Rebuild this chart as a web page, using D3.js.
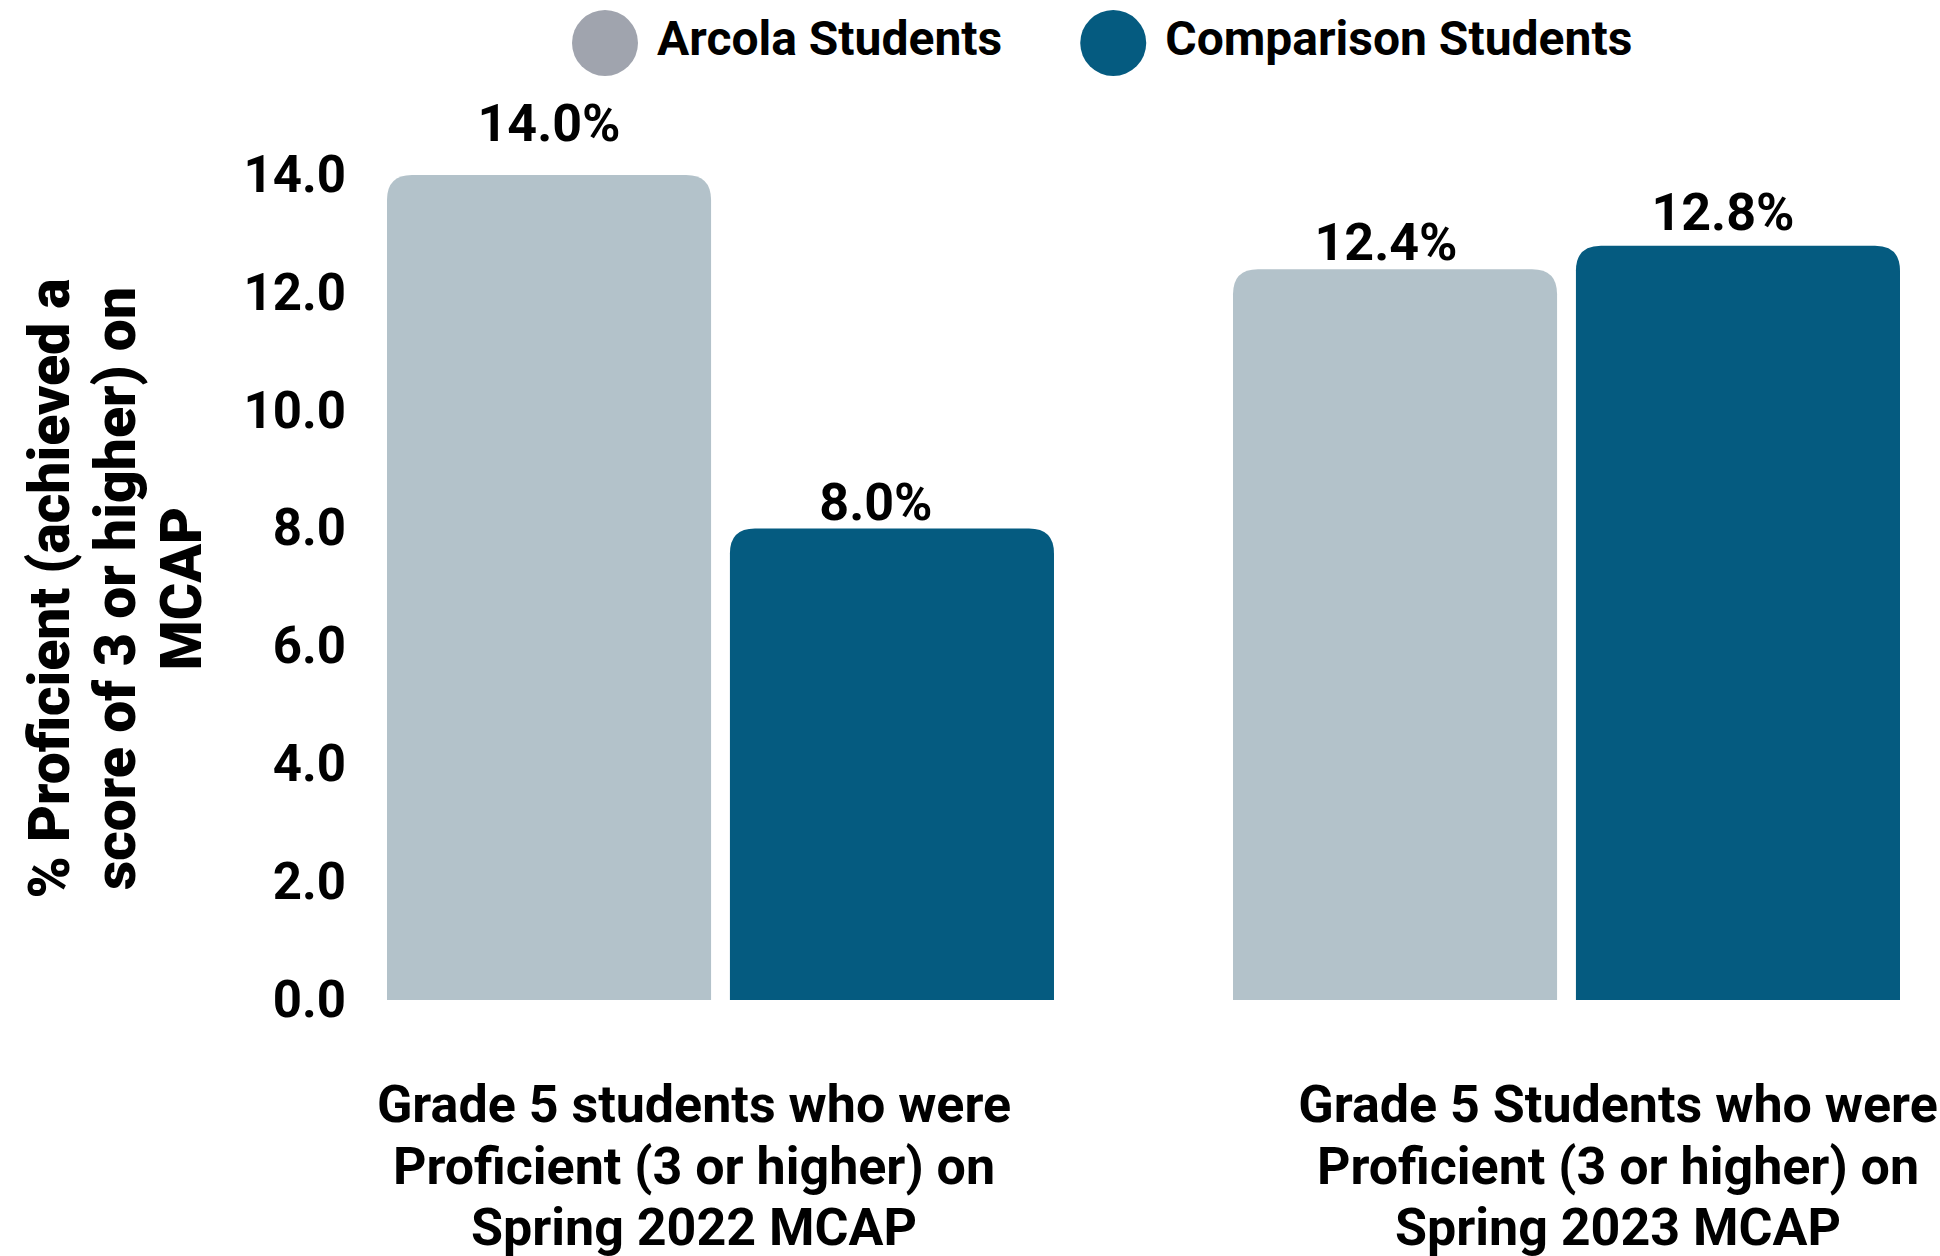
<!DOCTYPE html>
<html>
<head>
<meta charset="utf-8">
<script src="https://cdn.jsdelivr.net/npm/d3@7"></script>
<style>
  body { margin: 0; background: #fff; }
  svg { display: block; font-family: Roboto, "Noto Sans", sans-serif; font-weight: 700; }
  .axis text { font-size: 51px; fill: #000; }
  .value-label { font-size: 52px; fill: #000; }
  .legend-label { font-size: 48px; fill: #000; }
  .cat-label { font-size: 52px; fill: #000; }
  .axis-title { font-size: 57px; font-weight: 900; fill: #000; }
</style>
</head>
<body>
<div id="chart"></div>
<script>
// data
const categories = ['2022', '2023'];
const categoryLines = [
    ['Grade 5 students who were', 'Proficient (3 or higher) on', 'Spring 2022 MCAP'],
    ['Grade 5 Students who were', 'Proficient (3 or higher) on', 'Spring 2023 MCAP']
];
const seriesNames = ['Arcola Students', 'Comparison Students'];
const arcolaValues = [14.0, 12.4];
const comparisonValues = [8.0, 12.8];
const yTicks = [0, 2, 4, 6, 8, 10, 12, 14];
const yTitleLines = ['% Proficient (achieved a', 'score of 3 or higher) on', 'MCAP'];

const barColors = ['#b3c2ca', '#055b80'];
const legendColors = ['#a0a4ae', '#055b80'];

const width = 1940, height = 1256;
const plot = { left: 387, right: 1900, top: 175, bottom: 1000 };

// table for the bars
const table = [];
categories.forEach((c, i) => {
    table.push({ cat: c, series: seriesNames[0], value: arcolaValues[i] });
    table.push({ cat: c, series: seriesNames[1], value: comparisonValues[i] });
});

// small nudges for the value labels, as in the original
const labelNudge = {
    '2022|Arcola Students': { dx: 0, lift: 34 },
    '2022|Comparison Students': { dx: -16, lift: 9 },
    '2023|Arcola Students': { dx: -9, lift: 9 },
    '2023|Comparison Students': { dx: -15, lift: 16 }
};

const svg = d3.select('#chart').append('svg')
    .attr('width', width)
    .attr('height', height);

const x0 = d3.scaleBand()
    .domain(categories)
    .range([plot.left, plot.right])
    .paddingInner(0.2116)
    .paddingOuter(0);

const x1 = d3.scaleBand()
    .domain(seriesNames)
    .range([0, x0.bandwidth()])
    .paddingInner(0.055);

const y = d3.scaleLinear()
    .domain([0, 14])
    .range([plot.bottom, plot.top]);

const color = d3.scaleOrdinal().domain(seriesNames).range(barColors);

// y axis
const yAxis = d3.axisLeft(y)
    .tickValues(yTicks)
    .tickFormat(d3.format('.1f'))
    .tickSize(0)
    .tickPadding(41);

svg.append('g')
    .attr('class', 'axis y-axis')
    .attr('transform', `translate(${plot.left},0)`)
    .call(yAxis)
    .call(g => g.select('.domain').remove())
    .selectAll('text')
    .style('font-family', 'Roboto, sans-serif')
    .style('font-weight', 700);

// bars with rounded tops
const r = 25;
function topRounded(x, yTop, w, h) {
    const rr = Math.min(r, w / 2, h);
    return `M${x},${yTop + h}V${yTop + rr}Q${x},${yTop} ${x + rr},${yTop}` +
        `H${x + w - rr}Q${x + w},${yTop} ${x + w},${yTop + rr}V${yTop + h}Z`;
}

svg.append('g')
    .selectAll('path.bar')
    .data(table)
    .join('path')
    .attr('class', 'bar')
    .attr('fill', d => color(d.series))
    .attr('d', d => {
        const bx = x0(d.cat) + x1(d.series);
        return topRounded(bx, y(d.value), x1.bandwidth(), y(0) - y(d.value));
    });

// value labels
svg.append('g')
    .selectAll('text')
    .data(table)
    .join('text')
    .attr('class', 'value-label')
    .attr('text-anchor', 'middle')
    .attr('x', d => x0(d.cat) + x1(d.series) + x1.bandwidth() / 2 + labelNudge[d.cat + '|' + d.series].dx)
    .attr('y', d => y(d.value) - labelNudge[d.cat + '|' + d.series].lift)
    .text(d => d3.format('.1f')(d.value) + '%');

// category labels (own band scale, wider than the bars)
const xLabel = d3.scaleBand()
    .domain(categories)
    .range([232, 2080]);

const catG = svg.append('g');
categories.forEach((c, i) => {
    const t = catG.append('text')
        .attr('class', 'cat-label')
        .attr('text-anchor', 'middle')
        .attr('x', xLabel(c) + xLabel.bandwidth() / 2)
        .attr('y', 1122);
    categoryLines[i].forEach((line, j) => {
        t.append('tspan')
            .attr('x', xLabel(c) + xLabel.bandwidth() / 2)
            .attr('dy', j === 0 ? 0 : 61.5)
            .text(line);
    });
});

// y axis title
const yTitle = svg.append('text')
    .attr('class', 'axis-title')
    .attr('text-anchor', 'middle')
    .attr('transform', `translate(69,${(plot.top + plot.bottom) / 2 + 1}) rotate(-90)`);
yTitleLines.forEach((line, j) => {
    yTitle.append('tspan')
        .attr('x', 0)
        .attr('dy', j === 0 ? 0 : 66)
        .text(line);
});

// legend
const legend = svg.append('g').attr('transform', 'translate(572,43)');
let lx = 0;
seriesNames.forEach((s, i) => {
    const item = legend.append('g').attr('transform', `translate(${lx},0)`);
    item.append('circle')
        .attr('cx', 33)
        .attr('cy', 0)
        .attr('r', 33)
        .attr('fill', legendColors[i]);
    const t = item.append('text')
        .attr('class', 'legend-label')
        .attr('x', 85)
        .attr('y', 12)
        .text(s);
    lx += 85 + t.node().getComputedTextLength() + 78;
});
</script>
</body>
</html>
